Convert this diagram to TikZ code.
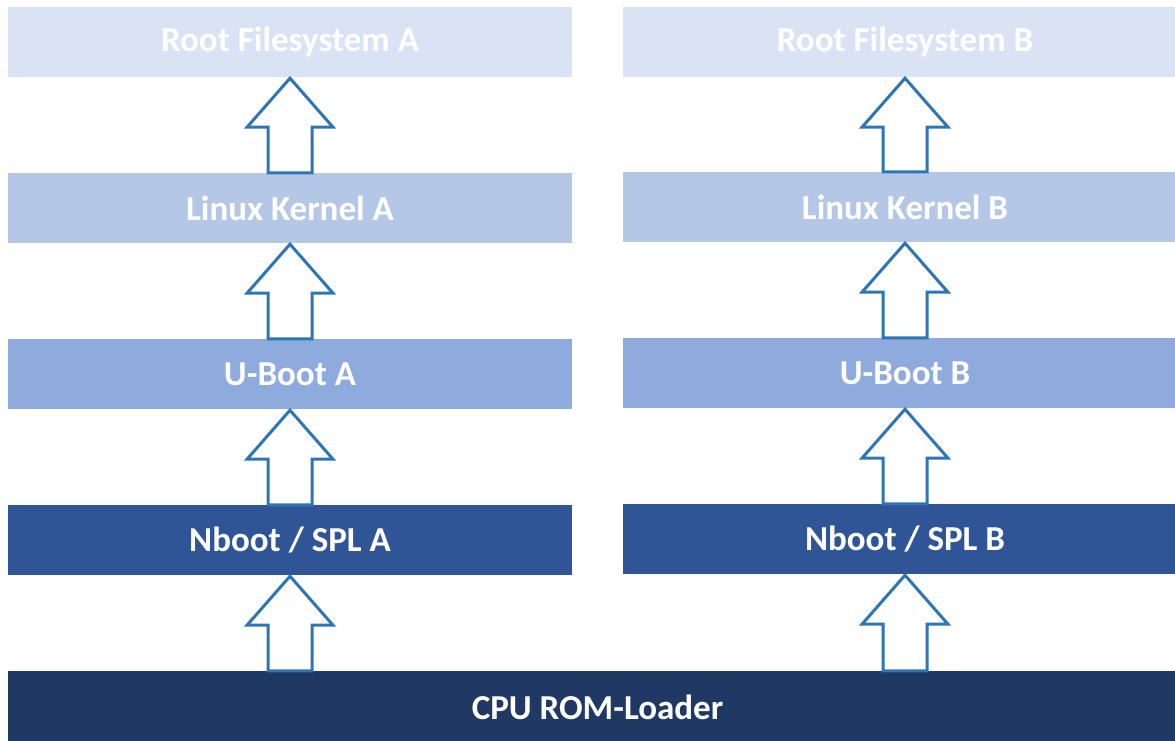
\documentclass[tikz,border=0pt]{standalone}
\usepackage{fontspec}
\setmainfont{Carlito}
\usetikzlibrary{calc}
\definecolor{cRoot}{HTML}{DAE3F3}
\definecolor{cKern}{HTML}{B4C7E7}
\definecolor{cUboot}{HTML}{8FAADC}
\definecolor{cNboot}{HTML}{2F5597}
\definecolor{cCpu}{HTML}{203864}
\definecolor{cArr}{HTML}{2E75B6}
\tikzset{
  layer/.style={minimum width=564pt, minimum height=70pt, inner sep=0pt, text=white,
    font=\fontsize{35}{40}\selectfont\bfseries},
  arr/.style={draw=cArr, line width=3pt, fill=white, line join=miter},
}
\newcommand{\bootarrow}[2]{%
  \draw[arr] ([xshift=-22pt]#1.north) -- ([xshift=-22pt,yshift=-50pt]#2.south)
    -- ([xshift=-43pt,yshift=-50pt]#2.south) -- ([yshift=-1pt]#2.south)
    -- ([xshift=43pt,yshift=-50pt]#2.south) -- ([xshift=22pt,yshift=-50pt]#2.south)
    -- ([xshift=22pt]#1.north) -- cycle;}
\begin{document}
\begin{tikzpicture}[x=1pt,y=1pt]
\useasboundingbox (0,0) rectangle (1175,-740);
\clip (0,0) rectangle (1175,-740);
% left column
\node[layer, fill=cRoot]  (rA) at (290,-42)  {Root Filesystem A};
\node[layer, fill=cKern]  (kA) at (290,-208) {Linux Kernel A};
\node[layer, fill=cUboot] (uA) at (290,-374) {U-Boot A};
\node[layer, fill=cNboot] (nA) at (290,-540) {Nboot / SPL A};
% right column
\node[layer, fill=cRoot]  (rB) at (905,-42)  {Root Filesystem B};
\node[layer, fill=cKern]  (kB) at (905,-207) {Linux Kernel B};
\node[layer, fill=cUboot] (uB) at (905,-373) {U-Boot B};
\node[layer, fill=cNboot] (nB) at (905,-539) {Nboot / SPL B};
% CPU
\node[layer, fill=cCpu, minimum width=1179pt, minimum height=72pt] (cpu) at (597.5,-707) {CPU ROM-Loader};
% arrows
\bootarrow{kA}{rA}
\bootarrow{uA}{kA}
\bootarrow{nA}{uA}
\bootarrow{kB}{rB}
\bootarrow{uB}{kB}
\bootarrow{nB}{uB}
\draw[arr] ([xshift=-22pt]cpu.north -| nA.south) -- ([xshift=-22pt,yshift=-50pt]nA.south)
    -- ([xshift=-43pt,yshift=-50pt]nA.south) -- ([yshift=-1pt]nA.south)
    -- ([xshift=43pt,yshift=-50pt]nA.south) -- ([xshift=22pt,yshift=-50pt]nA.south)
    -- ([xshift=22pt]cpu.north -| nA.south) -- cycle;
\draw[arr] ([xshift=-22pt]cpu.north -| nB.south) -- ([xshift=-22pt,yshift=-50pt]nB.south)
    -- ([xshift=-43pt,yshift=-50pt]nB.south) -- ([yshift=-1pt]nB.south)
    -- ([xshift=43pt,yshift=-50pt]nB.south) -- ([xshift=22pt,yshift=-50pt]nB.south)
    -- ([xshift=22pt]cpu.north -| nB.south) -- cycle;
\end{tikzpicture}
\end{document}
